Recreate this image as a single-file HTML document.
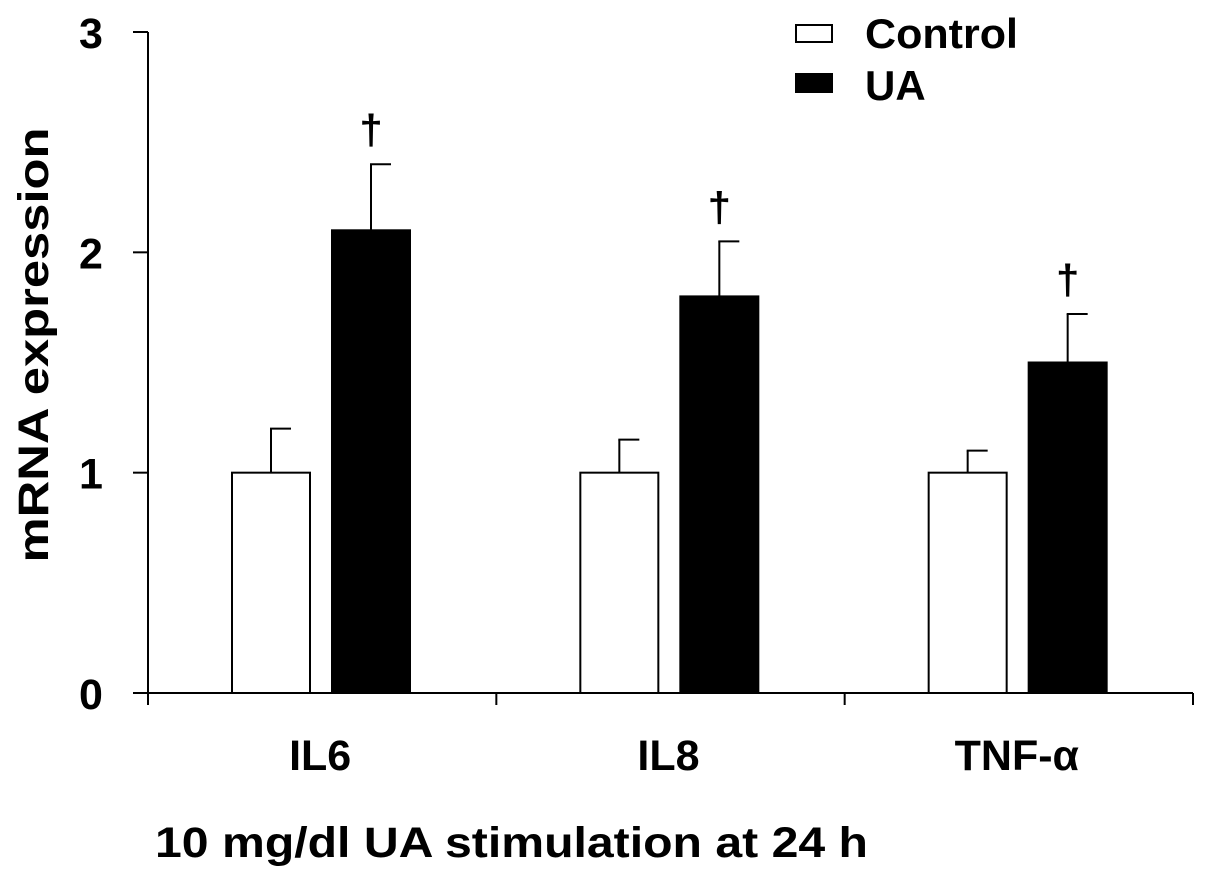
<!DOCTYPE html>
<html><head><meta charset="utf-8"><style>
html,body{margin:0;padding:0;background:#fff;}
svg{display:block;font-family:"Liberation Sans",Arial,sans-serif;font-weight:bold;}
</style></head><body>
<svg id="chart" width="1205" height="881">
<g id="axes"></g><g id="bars"></g>
<text x="48" y="345" font-size="43" text-anchor="middle" textLength="435" lengthAdjust="spacingAndGlyphs" transform="rotate(-90 48 345)">mRNA expression</text>
<text x="155" y="857" font-size="43" textLength="713" lengthAdjust="spacingAndGlyphs">10 mg/dl UA stimulation at 24 h</text>
<g>
<rect x="796" y="25" width="36" height="17" fill="#fff" stroke="#000" stroke-width="2"/>
<text x="865" y="48" font-size="42" textLength="153" lengthAdjust="spacingAndGlyphs">Control</text>
<rect x="796" y="74" width="36" height="18" fill="#000" stroke="#000" stroke-width="2"/>
<text x="865" y="100" font-size="42">UA</text>
</g>
</svg>
<script>
const categories=["IL6","IL8","TNF-α"];
const controlValues=[1,1,1];
const controlErrors=[0.2,0.15,0.1];
const uaValues=[2.1,1.8,1.5];
const uaErrors=[0.3,0.25,0.22];
const yTicks=[0,1,2,3];
const NS="http://www.w3.org/2000/svg";
const x0=148,x1=1193,yTop=32,yBot=693,yMax=3;
const y=v=>yBot-(v/yMax)*(yBot-yTop);
const groupW=(x1-x0)/categories.length;
const axes=document.getElementById('axes'),bars=document.getElementById('bars');
function mk(tag,attrs,parent){const e=document.createElementNS(NS,tag);for(const k in attrs)e.setAttribute(k,attrs[k]);parent.appendChild(e);return e;}
let l=mk('line',{x1:x0,y1:yTop,x2:x0,y2:yBot,stroke:'#000','stroke-width':2},axes);


l=mk('line',{x1:x0,y1:yBot,x2:x1,y2:yBot,stroke:'#000','stroke-width':2},axes);


yTicks.forEach(t=>{
 const tk=mk('line',{x1:x0-15,y1:y(t),x2:x0,y2:y(t),stroke:'#000','stroke-width':2},axes);
 
 
 const tx=mk('text',{x:91,y:y(t)+16,'font-size':43,'text-anchor':'middle'},axes);
 tx.textContent=t;
 
 
});
for(let i=0;i<=categories.length;i++){
 const tk=mk('line',{x1:x0+i*groupW,y1:yBot,x2:x0+i*groupW,y2:yBot+12,stroke:'#000','stroke-width':2},axes);
 
 
}
const bw=78;
categories.forEach((c,i)=>{
 const gx=x0+i*groupW;
 const lab=mk('text',{x:gx+groupW/2-2,y:770,'font-size':43,'text-anchor':'middle'},axes);
 lab.textContent=c;
 
 
 [[controlValues[i],controlErrors[i],gx+84,'#fff','control'],[uaValues[i],uaErrors[i],gx+184,'#000','ua']].forEach(([v,e,bx,fill,nm])=>{
  const cx=bx+bw/2,top=y(v+e);
  const el=mk('line',{x1:cx,y1:y(v),x2:cx,y2:top,stroke:'#000','stroke-width':2},bars);
  
  
  const cap=mk('line',{x1:cx-1,y1:top,x2:cx+20,y2:top,stroke:'#000','stroke-width':2},bars);
  
  
  const r=mk('rect',{x:bx,y:y(v),width:bw,height:yBot-y(v),fill:fill,stroke:'#000','stroke-width':2},bars);
  
  
  if(nm==='ua'){
   const d=mk('text',{x:cx,y:top-20,'font-size':42,'text-anchor':'middle'},bars);
   d.textContent='†';
   
   
  }
 });
});
</script>
</body></html>
